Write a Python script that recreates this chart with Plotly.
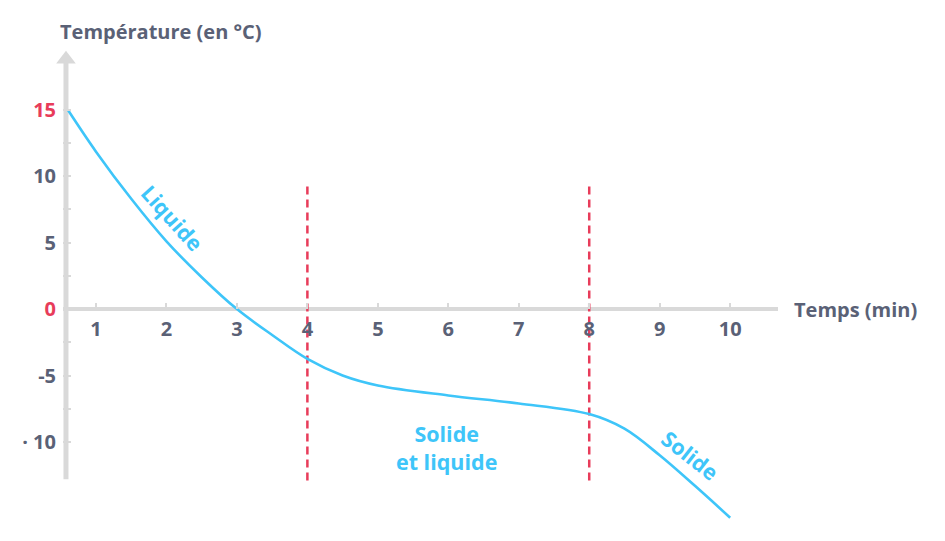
import plotly.graph_objects as go

# --- data ---
temps_min = [0.6, 1, 1.5, 2, 2.5, 3, 3.5, 4, 4.5, 5, 6, 7, 8, 8.5, 9, 9.5, 10]
temperature = [15, 11.85, 8.3, 5.1, 2.4, 0.0, -1.95, -3.75, -5.0, -5.75, -6.5, -7.1, -7.9, -9.0, -11.0, -13.3, -15.7]
phase_changes = [4, 8]
x_ticks = [1, 2, 3, 4, 5, 6, 7, 8, 9, 10]
y_ticks = [-10, -7.5, -5, -2.5, 0, 2.5, 5, 7.5, 10, 12.5, 15]
y_ticklabels = ["· 10", "", "-5", "", "0", "", "5", "", "10", "", "15"]
y_red_labels = ["15", "0"]
phase_labels = ["Liquide", "Solide<br>et liquide", "Solide"]
phase_label_x = [2.08, 5.98, 9.44]
phase_label_y = [6.9, -10.45, -11.0]
phase_label_angle = [48, 0, 38]

BLUE = "#3ec5f9"
RED = "#e83c5a"
GRAY = "#d9d9d9"
TEXT = "#5a6176"
FONT = "'Open Sans', Lato, sans-serif"

X_RANGE = [0.5317, 10.679]
Y_RANGE = [-17, 19.5]
Y_AXIS_X = 0.574
Y_AXIS_TOP = 18.6
Y_AXIS_BOTTOM = -12.8
X_ARROW = 10.74
DASH_TOP = 9.5
DASH_BOTTOM = -12.9

fig = go.Figure()

# vertical axis line + arrows
fig.add_trace(go.Scatter(x=[Y_AXIS_X, Y_AXIS_X], y=[Y_AXIS_BOTTOM, Y_AXIS_TOP], mode="lines",
                         line=dict(color=GRAY, width=5), hoverinfo="skip", showlegend=False))
fig.add_trace(go.Scatter(x=[Y_AXIS_X], y=[Y_AXIS_TOP + 0.2], mode="markers",
                         marker=dict(symbol="triangle-up", size=17, color=GRAY),
                         cliponaxis=False, hoverinfo="skip", showlegend=False))
fig.add_trace(go.Scatter(x=[X_ARROW], y=[0], mode="markers",
                         marker=dict(symbol="triangle-right", size=17, color=GRAY),
                         cliponaxis=False, hoverinfo="skip", showlegend=False))

# dashed lines at phase changes
for xc in phase_changes:
    fig.add_trace(go.Scatter(x=[xc, xc], y=[DASH_BOTTOM, DASH_TOP], mode="lines",
                             line=dict(color=RED, width=2.5, dash="8px,5px"),
                             hoverinfo="skip", showlegend=False))

# cooling curve
fig.add_trace(go.Scatter(x=temps_min, y=temperature, mode="lines",
                         line=dict(color=BLUE, width=2.6, shape="spline", smoothing=1.0),
                         hoverinfo="skip", showlegend=False))

ticktext = []
for t in y_ticklabels:
    if t in y_red_labels:
        ticktext.append(f'<span style="color:{RED}">{t}</span>')
    else:
        ticktext.append(t)

fig.update_layout(
    width=937, height=533,
    margin=dict(l=55, r=167, t=42, b=6),
    paper_bgcolor="white", plot_bgcolor="white",
    showlegend=False,
    font=dict(family=FONT, color=TEXT),
    xaxis=dict(range=X_RANGE, showgrid=False, zeroline=False, showline=False,
               tickvals=x_ticks, ticktext=[str(v) for v in x_ticks],
               ticks="inside", ticklen=6, tickwidth=1.5, tickcolor=GRAY,
               anchor="free", position=(0 - Y_RANGE[0]) / (Y_RANGE[1] - Y_RANGE[0]),
               tickfont=dict(size=20, color=TEXT, family=FONT, weight="bold"),
               ticklabelstandoff=6, fixedrange=True),
    yaxis=dict(range=Y_RANGE, showgrid=False, zeroline=True, zerolinecolor=GRAY, zerolinewidth=4,
               showline=False, tickvals=y_ticks, ticktext=ticktext,
               ticks="inside", ticklen=8, tickwidth=1.5, tickcolor=GRAY,
               tickfont=dict(size=20, color=TEXT, family=FONT, weight="bold"),
               ticklabelstandoff=6, fixedrange=True),
)

# axis titles
fig.add_annotation(text="Température (en °C)", xref="paper", yref="paper",
                   x=-5 / 715, y=1 + 18 / 485, xanchor="left", yanchor="middle", showarrow=False,
                   font=dict(size=20, color=TEXT, family=FONT, weight="bold"))
fig.add_annotation(text="Temps (min)", xref="paper", yref="y",
                   x=1 + 14 / 715, y=0, xanchor="left", yanchor="middle", showarrow=False,
                   font=dict(size=20, color=TEXT, family=FONT, weight="bold"))

# phase labels
for txt, lx, ly, ang in zip(phase_labels, phase_label_x, phase_label_y, phase_label_angle):
    fig.add_annotation(text=txt, x=lx, y=ly, xref="x", yref="y", showarrow=False,
                       textangle=ang, align="center",
                       font=dict(size=21.5, color=BLUE, family=FONT, weight="bold"))

fig.write_html("out.html")
